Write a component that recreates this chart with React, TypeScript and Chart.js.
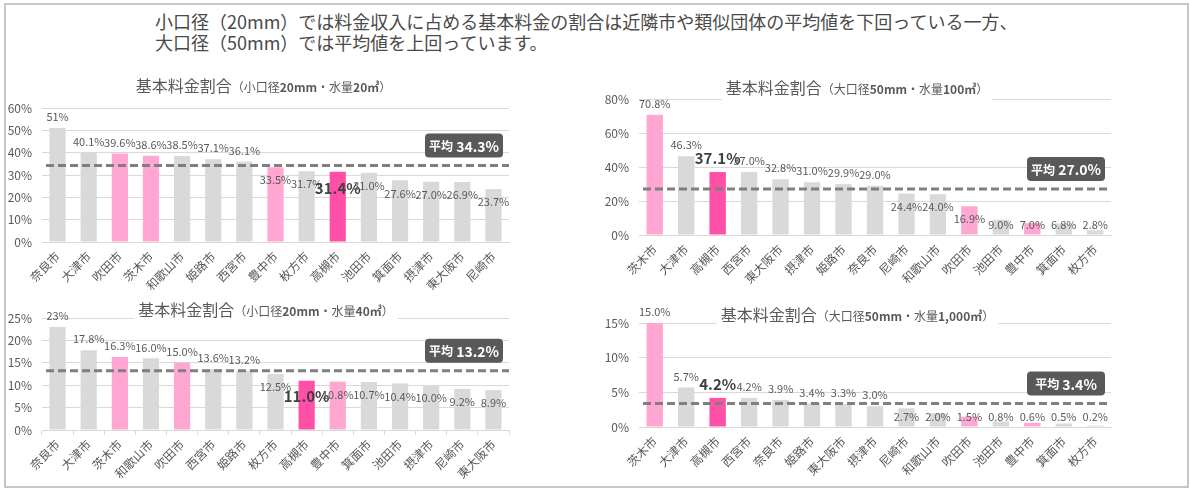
import React, { useEffect, useRef } from "react";
import { Chart, registerables } from "chart.js";

Chart.register(...registerables);

const FONT = '"Noto Sans CJK JP", "Noto Sans", sans-serif';

// ---- data ----
const headerLines = [
  "小口径（20mm）では料金収入に占める基本料金の割合は近隣市や類似団体の平均値を下回っている一方、",
  "大口径（50mm）では平均値を上回っています。",
];

const highlightCity = "高槻市";
const neighborCities = ["吹田市", "茨木市", "豊中市"];

const cities20a = ["奈良市", "大津市", "吹田市", "茨木市", "和歌山市", "姫路市", "西宮市", "豊中市", "枚方市", "高槻市", "池田市", "箕面市", "摂津市", "東大阪市", "尼崎市"];
const values20a = [51, 40.1, 39.6, 38.6, 38.5, 37.1, 36.1, 33.5, 31.7, 31.4, 31.0, 27.6, 27.0, 26.9, 23.7];
const labels20a = ["51%", "40.1%", "39.6%", "38.6%", "38.5%", "37.1%", "36.1%", "33.5%", "31.7%", "31.4%", "31.0%", "27.6%", "27.0%", "26.9%", "23.7%"];
const avg20a = 34.3;
const labelsBelowUnder20a = 34.3;
const axis20a = { max: 60, step: 10 };

const cities20b = ["奈良市", "大津市", "茨木市", "和歌山市", "吹田市", "西宮市", "姫路市", "枚方市", "高槻市", "豊中市", "箕面市", "池田市", "摂津市", "尼崎市", "東大阪市"];
const values20b = [23, 17.8, 16.3, 16.0, 15.0, 13.6, 13.2, 12.5, 11.0, 10.8, 10.7, 10.4, 10.0, 9.2, 8.9];
const labels20b = ["23%", "17.8%", "16.3%", "16.0%", "15.0%", "13.6%", "13.2%", "12.5%", "11.0%", "10.8%", "10.7%", "10.4%", "10.0%", "9.2%", "8.9%"];
const avg20b = 13.2;
const labelsBelowUnder20b = 13.2;
const axis20b = { max: 25, step: 5 };

const cities50a = ["茨木市", "大津市", "高槻市", "西宮市", "東大阪市", "摂津市", "姫路市", "奈良市", "尼崎市", "和歌山市", "吹田市", "池田市", "豊中市", "箕面市", "枚方市"];
const values50a = [70.8, 46.3, 37.1, 37.0, 32.8, 31.0, 29.9, 29.0, 24.4, 24.0, 16.9, 9.0, 7.0, 6.8, 2.8];
const labels50a = ["70.8%", "46.3%", "37.1%", "37.0%", "32.8%", "31.0%", "29.9%", "29.0%", "24.4%", "24.0%", "16.9%", "9.0%", "7.0%", "6.8%", "2.8%"];
const avg50a = 27.0;
const labelsBelowUnder50a = 27.0;
const axis50a = { max: 80, step: 20 };

const cities50b = ["茨木市", "大津市", "高槻市", "西宮市", "奈良市", "姫路市", "東大阪市", "摂津市", "尼崎市", "和歌山市", "吹田市", "池田市", "豊中市", "箕面市", "枚方市"];
const values50b = [15.0, 5.7, 4.2, 4.2, 3.9, 3.4, 3.3, 3.0, 2.7, 2.0, 1.5, 0.8, 0.6, 0.5, 0.2];
const labels50b = ["15.0%", "5.7%", "4.2%", "4.2%", "3.9%", "3.4%", "3.3%", "3.0%", "2.7%", "2.0%", "1.5%", "0.8%", "0.6%", "0.5%", "0.2%"];
const avg50b = 3.4;
const labelsBelowUnder50b = 2.8;
const axis50b = { max: 15, step: 5 };

const titleMain = "基本料金割合";

type Part = { text: string; size: number; bold?: boolean };
function makeTitle(kind: string, diam: string, vol: string): Part[] {
  return [
    { text: titleMain, size: 16 },
    { text: "（" + kind, size: 12 },
    { text: diam, size: 12, bold: true },
    { text: "・水量", size: 12 },
    { text: vol, size: 12, bold: true },
    { text: "）", size: 12 },
  ];
}

const COLORS = {
  gray: "#d9d9d9",
  pink: "#ffa6d2",
  hot: "#ff4fa6",
  text: "#595959",
  dark: "#404040",
  grid: "#d9d9d9",
  avgLine: "#7f7f7f",
  avgBox: "#595959",
};

function barColor(c: string) {
  if (c === highlightCity) return COLORS.hot;
  if (neighborCities.includes(c)) return COLORS.pink;
  return COLORS.gray;
}

const overlayPlugin = {
  id: "overlay",
  afterDatasetsDraw(chart: any, _a: any, opts: any) {
    const { ctx, chartArea } = chart;
    const ys = chart.scales.y;
    const zeroY = ys.getPixelForValue(0);
    const avgY = ys.getPixelForValue(opts.avg);
    ctx.save();
    // average dashed line
    ctx.strokeStyle = COLORS.avgLine;
    ctx.lineWidth = 3;
    ctx.setLineDash([8, 4]);
    ctx.beginPath();
    ctx.moveTo(chartArea.left + 4, avgY);
    ctx.lineTo(chartArea.right, avgY);
    ctx.stroke();
    ctx.setLineDash([]);
    // value labels
    const meta = chart.getDatasetMeta(0);
    meta.data.forEach((bar: any, i: number) => {
      const v = opts.values[i];
      const hi = opts.cities[i] === highlightCity;
      let cy: number;
      if (v >= opts.belowUnder) cy = bar.y - (hi ? 14 : 11);
      else cy = Math.min(bar.y + (hi ? 16 : 13), zeroY - 10);
      ctx.font = hi ? `bold 15px ${FONT}` : `11px ${FONT}`;
      ctx.fillStyle = hi ? COLORS.dark : COLORS.text;
      ctx.textAlign = "center";
      ctx.textBaseline = "middle";
      ctx.fillText(opts.labels[i], bar.x, cy);
    });
    // average box
    const bw = 78, bh = 24;
    const bx = chartArea.right - 6 - bw;
    const by = avgY - 8 - bh;
    ctx.fillStyle = COLORS.avgBox;
    ctx.beginPath();
    ctx.roundRect(bx, by, bw, bh, 4);
    ctx.fill();
    const t1 = "平均";
    const t2 = " " + opts.avg.toFixed(1) + "%";
    ctx.font = `bold 12px ${FONT}`;
    const w1 = ctx.measureText(t1).width;
    ctx.font = `bold 14px ${FONT}`;
    const w2 = ctx.measureText(t2).width;
    const tx = bx + (bw - w1 - w2) / 2;
    ctx.fillStyle = "#ffffff";
    ctx.textAlign = "left";
    ctx.textBaseline = "middle";
    ctx.font = `bold 12px ${FONT}`;
    ctx.fillText(t1, tx, by + bh / 2 + 1);
    ctx.font = `bold 14px ${FONT}`;
    ctx.fillText(t2, tx + w1, by + bh / 2 + 1);
    ctx.restore();
  },
  afterDraw(chart: any, _a: any, opts: any) {
    const { ctx } = chart;
    const parts: Part[] = opts.title;
    ctx.save();
    let total = 0;
    const widths = parts.map((p) => {
      ctx.font = `${p.bold ? "bold " : ""}${p.size}px ${FONT}`;
      const w = ctx.measureText(p.text).width;
      total += w;
      return w;
    });
    let x = opts.titleX - total / 2;
    const y = opts.titleY;
    ctx.fillStyle = "#ffffff";
    ctx.fillRect(x - 4, y - 12, total + 8, 24);
    ctx.fillStyle = COLORS.text;
    ctx.textAlign = "left";
    ctx.textBaseline = "middle";
    parts.forEach((p, i) => {
      ctx.font = `${p.bold ? "bold " : ""}${p.size}px ${FONT}`;
      ctx.fillText(p.text, x, y + (p.size === 16 ? 0 : 1));
      x += widths[i];
    });
    ctx.restore();
  },
};

type PanelProps = {
  cities: string[];
  values: number[];
  labels: string[];
  avg: number;
  belowUnder: number;
  axis: { max: number; step: number };
  title: Part[];
  left: number;
  top: number;
  width: number;
  height: number;
  areaLeft: number;
  padRight: number;
  padTop: number;
  xHeight: number;
  titleX: number;
  titleY: number;
  xTicks: boolean;
};

function Panel(p: PanelProps) {
  const ref = useRef<HTMLCanvasElement>(null);
  useEffect(() => {
    if (!ref.current) return;
    const chart = new Chart(ref.current, {
      type: "bar",
      data: {
        labels: p.cities,
        datasets: [
          {
            data: p.values,
            backgroundColor: p.cities.map(barColor),
            barPercentage: 0.52,
            categoryPercentage: 1,
          },
        ],
      },
      plugins: [overlayPlugin as any],
      options: {
        animation: false,
        responsive: false,
        devicePixelRatio: 1,
        layout: { padding: { left: 0, right: p.padRight, top: p.padTop, bottom: 0 } },
        plugins: {
          legend: { display: false },
          tooltip: { enabled: false },
          title: { display: false },
          overlay: {
            cities: p.cities,
            values: p.values,
            labels: p.labels,
            avg: p.avg,
            belowUnder: p.belowUnder,
            title: p.title,
            titleX: p.titleX,
            titleY: p.titleY,
          },
        } as any,
        scales: {
          x: {
            grid: {
              display: p.xTicks,
              drawOnChartArea: false,
              drawTicks: true,
              tickLength: 5,
              color: COLORS.grid,
              offset: true,
            },
            border: { display: true, color: COLORS.grid },
            ticks: {
              minRotation: 45,
              maxRotation: 45,
              autoSkip: false,
              color: COLORS.text,
              font: { size: 12, family: FONT },
              padding: 2,
            },
            afterFit: (s: any) => {
              s.height = p.xHeight;
            },
          },
          y: {
            min: 0,
            max: p.axis.max,
            ticks: {
              stepSize: p.axis.step,
              callback: (v: any) => v + "%",
              color: COLORS.text,
              font: { size: 12, family: FONT },
              padding: 10,
            },
            grid: { color: COLORS.grid, drawTicks: false },
            border: { display: false },
            afterFit: (s: any) => {
              s.width = p.areaLeft;
            },
          },
        },
      } as any,
    });
    return () => chart.destroy();
  }, []);
  return (
    <canvas
      ref={ref}
      width={p.width}
      height={p.height}
      style={{ position: "absolute", left: p.left, top: p.top, width: p.width, height: p.height }}
    />
  );
}

export default function App() {
  return (
    <div
      style={{
        position: "absolute",
        left: 0,
        top: 0,
        width: 1190,
        height: 489,
        background: "#ffffff",
        overflow: "hidden",
        fontFamily: FONT,
      }}
    >
      <div
        style={{
          position: "absolute",
          left: 4,
          top: 3,
          width: 1181,
          height: 481,
          border: "2px solid #c6c6c6",
        }}
      />
      <div
        style={{
          position: "absolute",
          left: 155,
          top: 11,
          fontSize: 18,
          lineHeight: "21px",
          color: "#4a4a4a",
          whiteSpace: "nowrap",
        }}
      >
        {headerLines.map((l, i) => (
          <div key={i}>{l}</div>
        ))}
      </div>
      <Panel
        cities={cities20a}
        values={values20a}
        labels={labels20a}
        avg={avg20a}
        belowUnder={labelsBelowUnder20a}
        axis={axis20a}
        title={makeTitle("小口径", "20mm", "20㎥")}
        left={0}
        top={65}
        width={595}
        height={225}
        areaLeft={42}
        padRight={86}
        padTop={43}
        xHeight={48}
        titleX={263.5}
        titleY={21}
        xTicks={false}
      />
      <Panel
        cities={cities20b}
        values={values20b}
        labels={labels20b}
        avg={avg20b}
        belowUnder={labelsBelowUnder20b}
        axis={axis20b}
        title={makeTitle("小口径", "20mm", "40㎥")}
        left={0}
        top={290}
        width={595}
        height={199}
        areaLeft={42}
        padRight={86}
        padTop={28}
        xHeight={59}
        titleX={266}
        titleY={20}
        xTicks={true}
      />
      <Panel
        cities={cities50a}
        values={values50a}
        labels={labels50a}
        avg={avg50a}
        belowUnder={labelsBelowUnder50a}
        axis={axis50a}
        title={makeTitle("大口径", "50mm", "100㎥")}
        left={595}
        top={65}
        width={595}
        height={225}
        areaLeft={44}
        padRight={79}
        padTop={34}
        xHeight={55}
        titleX={262}
        titleY={23}
        xTicks={false}
      />
      <Panel
        cities={cities50b}
        values={values50b}
        labels={labels50b}
        avg={avg50b}
        belowUnder={labelsBelowUnder50b}
        axis={axis50b}
        title={makeTitle("大口径", "50mm", "1,000㎥")}
        left={595}
        top={290}
        width={595}
        height={199}
        areaLeft={44}
        padRight={79}
        padTop={33}
        xHeight={62}
        titleX={262.5}
        titleY={25}
        xTicks={false}
      />
    </div>
  );
}
